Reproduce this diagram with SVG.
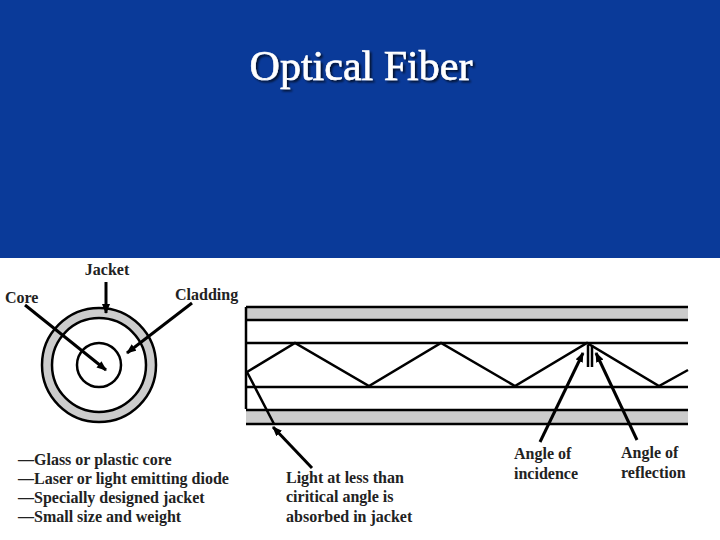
<svg xmlns="http://www.w3.org/2000/svg" width="720" height="540" viewBox="0 0 720 540">
<defs>
<marker id="ah" markerWidth="10" markerHeight="8" refX="9" refY="4" orient="auto" markerUnits="userSpaceOnUse"><path d="M0,0 L10,4 L0,8 Z" fill="#000"/></marker>
<filter id="sh" x="-10%" y="-30%" width="120%" height="160%"><feDropShadow dx="2" dy="2" stdDeviation="0.8" flood-color="#000" flood-opacity="0.7"/></filter>
<style>
.t{font-family:"Liberation Serif",serif;font-weight:bold;font-size:16px;fill:#222}
.ln{stroke:#000;stroke-width:2.5;fill:none}
.ar{stroke:#000;stroke-width:3;fill:none;marker-end:url(#ah)}
</style>
</defs>
<rect width="720" height="540" fill="#fff"/>
<rect width="720" height="258" fill="#0a3a99"/>
<text x="361" y="80" text-anchor="middle" font-family="Liberation Serif,serif" font-size="42" fill="#fff" stroke="#fff" stroke-width="0.6" filter="url(#sh)">Optical Fiber</text>
<g id="cross-section">
<circle cx="99" cy="365" r="57" fill="#ccc" stroke="#000" stroke-width="2.5"/>
<circle cx="99" cy="365" r="47" fill="#fff" stroke="#000" stroke-width="2.5"/>
<circle cx="99" cy="365" r="22" fill="#fff" stroke="#000" stroke-width="2.5"/>
</g>
<g id="fiber">
<rect x="246" y="307" width="442" height="13" fill="#ccc"/>
<rect x="246" y="410" width="442" height="14" fill="#ccc"/>
<path class="ln" d="M246,307 H688 M246,320 H688 M246,343 H688 M246,387 H688 M246,410 H688 M246,424 H688 M246,307 V409"/>
<path class="ln" d="M247,372 L295,343 L369,386 L441,343 L515,386 L587,343 L659,386 L688,370"/>
<path class="ln" d="M247,372 L274,424 M588,345 V367 M592,345 V367"/>
</g>
<g id="connectors">
<path class="ar" d="M106,282 V313"/>
<path class="ar" d="M25,305 L106,370"/>
<path class="ar" d="M192,303 L127,353"/>
<path class="ar" d="M312,468 L273,427"/>
<path class="ar" d="M540,442 L583,353"/>
<path class="ar" d="M637,440 L596,353"/>
</g>
<g id="labels">
<text class="t" x="107" y="275" text-anchor="middle">Jacket</text>
<text class="t" x="5" y="303">Core</text>
<text class="t" x="175" y="300">Cladding</text>
<text class="t" x="18" y="465">—Glass or plastic core</text>
<text class="t" x="18" y="484">—Laser or light emitting diode</text>
<text class="t" x="18" y="503">—Specially designed jacket</text>
<text class="t" x="18" y="522">—Small size and weight</text>
<text class="t" x="286" y="483">Light at less than</text>
<text class="t" x="286" y="502">ciritical angle is</text>
<text class="t" x="286" y="522">absorbed in jacket</text>
<text class="t" x="514" y="459">Angle of</text>
<text class="t" x="514" y="479">incidence</text>
<text class="t" x="621" y="458">Angle of</text>
<text class="t" x="621" y="478">reflection</text>
</g>
</svg>
